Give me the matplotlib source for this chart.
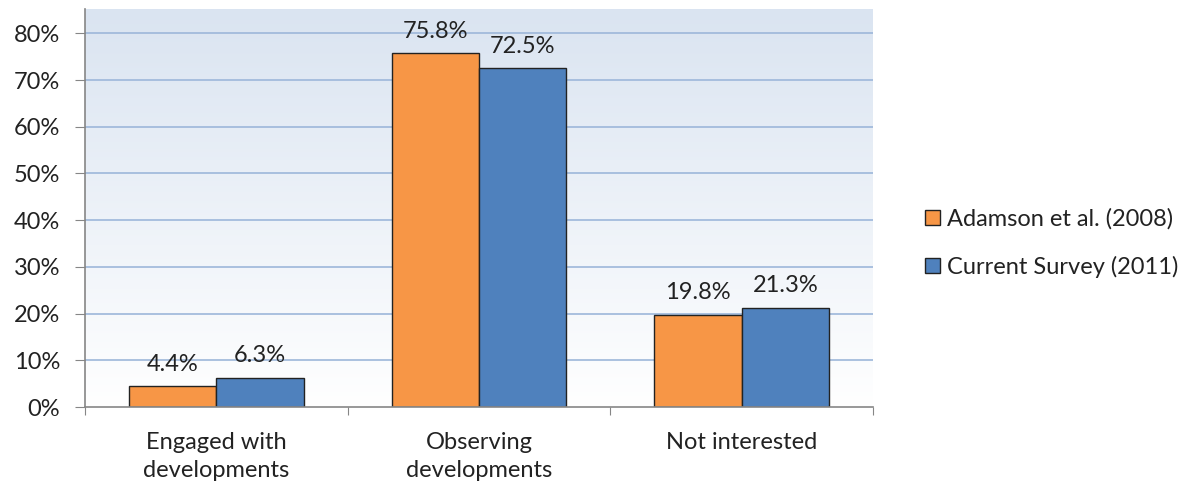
import matplotlib
matplotlib.use("Agg")
import matplotlib.pyplot as plt
import numpy as np
from matplotlib.colors import LinearSegmentedColormap

categories = ["Engaged with\ndevelopments", "Observing\ndevelopments", "Not interested"]
series_names = ["Adamson et al. (2008)", "Current Survey (2011)"]
adamson = [4.4, 75.8, 19.8]
current = [6.3, 72.5, 21.3]
yticks = [0, 10, 20, 30, 40, 50, 60, 70, 80]
colors = ["#F79646", "#4F81BD"]

plt.rcParams['font.family'] = ['Lato', 'DejaVu Sans']
FS = 17
fig = plt.figure(figsize=(11.84, 4.86), dpi=100)
ax = fig.add_axes([85/1184, 1-407/486, (873-85)/1184, (407-9)/486])

ymax = 85.2
cmap = LinearSegmentedColormap.from_list("g", ["#DAE4F1", "#FFFFFF"])
grad = np.linspace(0, 1, 256).reshape(-1, 1)
ax.imshow(grad, aspect='auto', cmap=cmap, extent=[0, 3, 0, ymax], origin='upper', zorder=0)
ax.set_xlim(0, 3)
ax.set_ylim(0, ymax)

for y in yticks[1:]:
    ax.axhline(y, color="#9DB7DA", lw=1.2, zorder=1)

x = np.arange(len(categories)) + 0.5
w = 0.332
b1 = ax.bar(x - w/2, adamson, w, color=colors[0], edgecolor="#222222", lw=1.0, zorder=3, label=series_names[0])
b2 = ax.bar(x + w/2, current, w, color=colors[1], edgecolor="#222222", lw=1.0, zorder=3, label=series_names[1])

for bars, vals in ((b1, adamson), (b2, current)):
    for r, v in zip(bars, vals):
        ax.text(r.get_x() + r.get_width()/2, v + 2.4, f"{v:.1f}%", ha='center', va='bottom',
                fontsize=FS, color="#222222", zorder=4)

ax.set_yticks(yticks)
ax.set_yticklabels([f"{t}%" for t in yticks], fontsize=FS, color="#222222")
ax.set_xticks([0, 1, 2, 3])
ax.set_xticklabels([])
ax.set_xticks(x, minor=True)
ax.set_xticklabels(categories, minor=True, fontsize=FS, color="#222222", linespacing=1.4)
ax.tick_params(axis='x', which='minor', length=0, pad=18)
ax.tick_params(axis='x', which='major', length=6, color="#868686", direction='out')
ax.tick_params(axis='y', length=7, color="#868686", direction='out', pad=11)

for s in ['top', 'right']:
    ax.spines[s].set_visible(False)
for s in ['left', 'bottom']:
    ax.spines[s].set_color("#868686")
    ax.spines[s].set_linewidth(1.2)
    ax.spines[s].set_zorder(5)

leg = fig.legend(handles=[b1, b2], labels=series_names, loc='center left',
                 bbox_to_anchor=(904/1184, 1-243/486), frameon=False, fontsize=FS,
                 handlelength=0.62, handleheight=0.62, handletextpad=0.3, labelspacing=1.1)
for t in leg.get_texts():
    t.set_color("#222222")

fig.savefig("out.png", dpi=100)
